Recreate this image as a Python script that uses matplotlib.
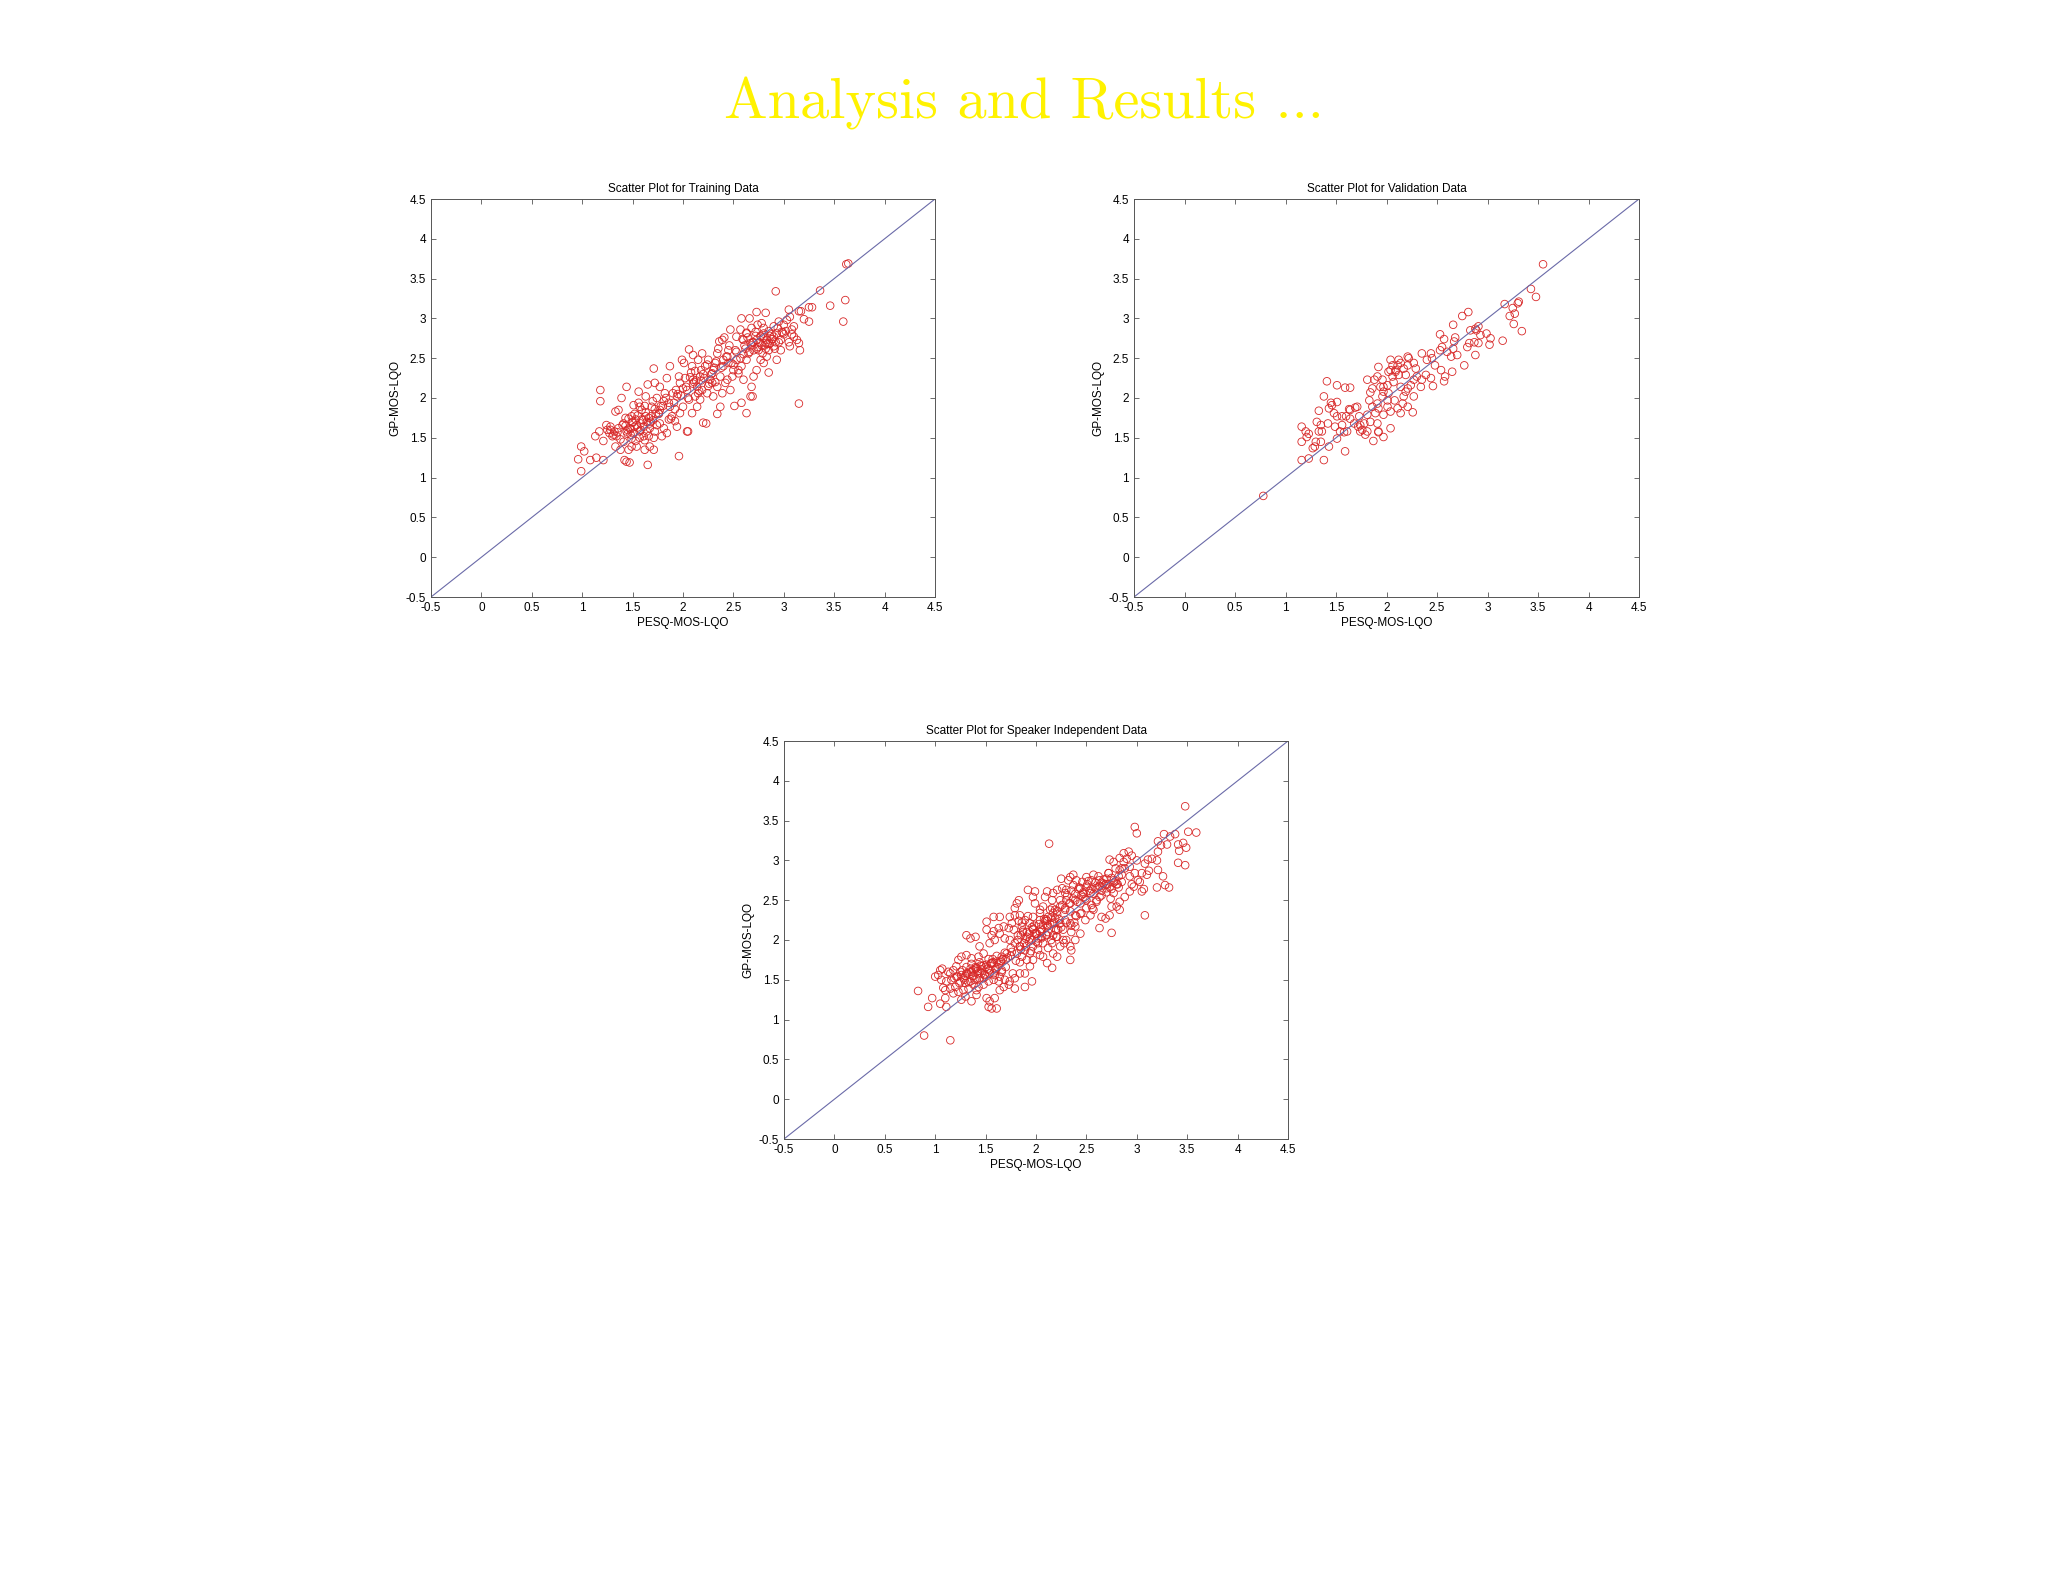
import matplotlib
matplotlib.use("Agg")
import matplotlib.pyplot as plt

# Training data (PESQ-MOS-LQO, GP-MOS-LQO)
train_x = [0.99, 1.02, 0.96, 0.99, 1.08, 1.14, 1.21, 1.13, 1.17, 1.18, 1.18, 1.24, 1.28,
           1.28, 1.31, 1.34, 1.36, 1.33, 1.39, 1.44, 1.41, 1.44, 1.48, 1.49, 1.52, 1.49, 1.46,
           1.54, 1.41, 1.38, 1.33, 1.44, 1.42, 1.47, 1.57, 1.56, 1.53, 1.51,
           1.57, 1.61, 1.64, 1.66, 1.63, 1.65, 1.69, 1.71, 1.72, 1.74, 1.76, 1.77, 1.81, 1.84,
           1.79, 1.67, 1.71, 1.62, 1.65, 1.86, 1.87, 1.82, 1.77, 1.84, 1.87, 1.81, 1.67, 1.72,
           1.77, 1.59,
           1.91, 1.94, 1.97, 1.96, 1.99, 2.01, 2.06, 2.09, 2.10, 2.14, 2.12, 2.04, 2.00, 1.97,
           1.92, 1.96, 2.04, 2.05, 2.09, 2.14, 2.17, 2.19, 2.17, 2.15, 2.19, 2.10, 2.20, 2.23,
           1.94, 1.89,
           2.24, 2.27, 2.30, 2.32, 2.34, 2.39, 2.41, 2.36, 2.44, 2.47, 2.45, 2.40, 2.37, 2.34,
           2.30, 2.29, 2.44, 2.47, 2.50, 2.52, 2.53, 2.25, 2.34, 2.51, 2.39, 2.37, 2.49, 2.42,
           2.57, 2.60, 2.63, 2.67, 2.70, 2.73, 2.77, 2.80, 2.83, 2.85, 2.77, 2.73, 2.68, 2.67,
           2.69, 2.58, 2.63, 2.58, 2.60, 2.63, 2.53, 2.55, 2.73, 2.82, 2.58, 2.66, 2.78, 2.82,
           2.75, 2.85, 2.70, 2.80, 2.83,
           2.90, 2.93, 2.97, 3.00, 3.03, 3.06, 3.10, 3.08, 3.13, 3.15, 3.06, 3.16, 2.93, 2.92,
           3.05, 3.15, 3.17, 2.97, 2.90, 2.98, 3.10, 3.20, 3.15, 2.90, 2.95,
           3.25, 3.28, 3.36, 3.46, 3.25, 3.61, 3.59, 3.62, 3.64,
           1.36, 1.40, 1.45, 1.50, 1.55, 1.60, 1.43, 1.52, 1.58, 1.63, 1.68, 1.73, 1.35, 1.47,
           1.56, 1.62, 1.70, 1.78, 1.95, 2.00, 2.05, 2.10, 2.15, 2.20, 2.25, 2.02, 2.08, 2.13,
           2.18, 2.22, 2.62, 2.66, 2.70, 2.74, 2.78, 2.82, 2.86, 2.64, 2.72, 2.80, 2.88, 2.92,
           1.25, 1.30, 1.88, 1.92, 2.28, 2.32, 2.45, 2.55, 2.60, 3.00, 3.05,
           1.45, 1.48, 1.51, 1.54, 1.58, 1.61, 1.64, 1.67, 1.70, 1.74, 1.46, 1.50, 1.55, 1.59,
           1.63, 1.68, 1.72, 1.76, 1.49, 1.53, 1.57, 1.62, 1.66, 1.71, 1.80, 1.83, 1.86, 1.90,
           1.93, 1.98, 2.03, 2.06, 2.11, 2.16, 2.21, 2.26, 2.31, 2.07, 2.12, 2.18, 2.24, 2.29,
           2.33, 2.38, 2.43, 2.48, 2.53, 2.57, 2.61, 2.65, 2.69, 2.73, 2.77, 2.81, 2.85, 2.89,
           2.94, 2.99, 2.59, 2.63, 2.68, 2.72, 2.76, 2.80, 2.84, 2.88, 2.91, 2.68, 2.74, 2.79,
           2.86, 2.95, 3.02, 3.08, 1.32, 1.38, 1.43, 1.27, 1.21, 2.35, 2.40, 2.46, 2.50]
train_y = [1.39, 1.33, 1.23, 1.08, 1.22, 1.25, 1.22, 1.52, 1.58, 2.10, 1.96, 1.66, 1.64,
           1.60, 1.54, 1.52, 1.85, 1.83, 2.00, 2.14, 1.68, 1.58, 1.54, 1.77, 1.64, 1.39, 1.35,
           1.39, 1.45, 1.35, 1.39, 1.20, 1.22, 1.19, 1.89, 2.08, 1.73, 1.91,
           1.58, 1.52, 1.58, 1.75, 2.02, 2.17, 1.89, 2.37, 2.19, 2.00, 1.81, 1.68, 1.62, 1.56,
           1.52, 1.39, 1.35, 1.35, 1.16, 1.73, 1.89, 2.06, 2.14, 2.25, 2.40, 1.96, 1.68, 1.58,
           1.85, 1.85,
           1.94, 2.02, 2.19, 2.27, 2.48, 2.44, 2.61, 2.40, 2.23, 2.14, 2.02, 2.10, 1.89, 1.81,
           1.71, 1.27, 1.58, 1.58, 1.81, 1.89, 1.98, 2.10, 2.27, 2.48, 2.56, 2.54, 1.69, 1.68,
           1.64, 1.77,
           2.06, 2.23, 2.35, 2.44, 2.56, 2.73, 2.76, 2.71, 2.52, 2.86, 2.60, 2.40, 2.27, 2.14,
           2.02, 2.19, 2.23, 2.10, 2.35, 2.60, 2.77, 2.48, 1.80, 1.90, 2.06, 1.89, 2.27, 2.19,
           2.86, 2.73, 2.81, 2.69, 2.60, 2.73, 2.77, 2.81, 2.73, 2.60, 2.48, 2.35, 2.14, 2.02,
           2.02, 1.94, 1.81, 2.40, 2.23, 2.48, 2.48, 2.31, 3.08, 3.07, 3.00, 3.00, 2.94, 2.69,
           2.60, 2.32, 2.27, 2.44, 2.52,
           2.90, 2.81, 2.73, 2.92, 2.98, 3.02, 2.90, 2.86, 2.73, 2.69, 2.65, 2.60, 2.48, 3.34,
           3.11, 3.09, 3.09, 2.60, 2.65, 2.83, 2.77, 2.99, 1.93, 2.77, 2.96,
           3.14, 3.14, 3.35, 3.16, 2.96, 3.23, 2.96, 3.68, 3.69,
           1.62, 1.66, 1.60, 1.70, 1.63, 1.72, 1.75, 1.80, 1.68, 1.77, 1.70, 1.80, 1.57, 1.62,
           1.94, 1.90, 1.96, 1.90, 2.05, 2.12, 2.00, 2.18, 2.06, 2.30, 2.15, 2.25, 2.32, 2.22,
           2.35, 2.40, 2.62, 2.58, 2.70, 2.64, 2.66, 2.62, 2.68, 2.76, 2.83, 2.88, 2.80, 2.70,
           1.60, 1.52, 1.74, 1.86, 2.30, 2.20, 2.44, 2.35, 2.55, 2.80, 2.70,
           1.55, 1.61, 1.56, 1.66, 1.60, 1.64, 1.70, 1.62, 1.72, 1.66, 1.74, 1.69, 1.78, 1.73,
           1.82, 1.77, 1.86, 1.80, 1.49, 1.46, 1.50, 1.47, 1.52, 1.50, 1.90, 2.00, 1.94, 2.06,
           2.10, 2.03, 2.14, 1.98, 2.20, 2.09, 2.25, 2.18, 2.38, 2.26, 2.34, 2.22, 2.42, 2.31,
           2.46, 2.38, 2.52, 2.44, 2.58, 2.50, 2.66, 2.56, 2.70, 2.62, 2.78, 2.66, 2.84, 2.74,
           2.88, 2.82, 2.74, 2.82, 2.66, 2.78, 2.70, 2.76, 2.68, 2.74, 2.62, 2.88, 2.92, 2.56,
           2.78, 2.70, 2.84, 2.80, 1.58, 1.48, 1.65, 1.56, 1.46, 2.62, 2.48, 2.66, 2.42]

# Validation data
val_x = [3.55, 3.43, 3.48, 3.17, 3.31, 3.30, 3.25, 3.22, 3.27, 3.26, 3.34, 3.15, 3.02, 3.03,
         2.99, 2.93, 2.88, 2.91, 2.89, 2.83, 2.81, 2.75, 2.66, 2.53, 2.57, 2.68, 2.67, 2.82,
         2.87, 2.91, 2.80, 2.88, 2.77, 2.66, 2.60, 2.64, 2.70, 2.55, 2.53, 2.65, 2.58, 2.57,
         2.46, 2.54, 2.48, 2.44, 2.45, 2.40, 2.35, 2.39, 2.35, 2.44, 2.27, 2.29, 2.21, 2.22,
         2.17, 2.14, 2.11, 2.09, 2.12, 2.19, 2.04, 1.92, 1.81, 1.88, 2.27, 2.24, 2.30, 2.34,
         2.27, 2.21, 2.17, 2.16, 2.21, 2.26, 2.14, 2.11, 2.08, 2.01, 2.02, 1.97, 1.94, 1.96,
         1.91, 2.01, 2.04, 1.97, 1.86, 1.84, 1.83, 1.86, 1.81, 1.89, 1.92, 1.71, 1.69, 1.64,
         1.63, 1.73, 1.68, 1.74, 1.76, 1.81, 1.79, 1.87, 1.92, 1.97, 2.04, 1.59, 1.64, 1.51,
         1.41, 1.38, 1.45, 1.51, 1.46, 1.33, 1.31, 1.35, 1.36, 1.33, 1.35, 1.30, 1.27, 1.29,
         1.16, 1.20, 1.23, 1.16, 1.21, 1.16, 1.23, 1.38, 1.43, 1.51, 1.54, 1.58, 1.61, 1.56,
         1.49, 1.51, 1.56, 1.60, 1.64, 1.59, 1.43, 1.48, 1.42, 1.72, 1.74, 1.78, 1.84, 1.91,
         1.92, 1.97, 2.01, 2.06, 2.07, 2.02, 1.91, 1.96, 0.78, 2.06, 2.09, 2.12, 2.21, 2.04,
         2.14, 2.19]
val_y = [3.68, 3.37, 3.27, 3.18, 3.21, 3.19, 3.13, 3.03, 3.06, 2.93, 2.84, 2.72, 2.67, 2.75,
         2.81, 2.79, 2.87, 2.90, 2.85, 2.85, 3.08, 3.03, 2.92, 2.80, 2.74, 2.76, 2.71, 2.69,
         2.70, 2.69, 2.64, 2.54, 2.41, 2.62, 2.58, 2.52, 2.54, 2.64, 2.60, 2.33, 2.27, 2.21,
         2.15, 2.35, 2.41, 2.56, 2.50, 2.48, 2.56, 2.29, 2.23, 2.25, 2.44, 2.37, 2.52, 2.50,
         2.37, 2.44, 2.41, 2.35, 2.29, 2.29, 2.48, 2.39, 2.23, 2.23, 2.23, 2.16, 2.27, 2.14,
         2.02, 2.12, 2.02, 1.93, 1.89, 1.82, 1.81, 1.87, 1.97, 1.97, 2.06, 2.08, 2.14, 2.02,
         1.93, 1.89, 1.83, 1.79, 2.12, 2.07, 1.97, 1.89, 1.79, 1.81, 1.87, 1.89, 1.88, 1.85,
         1.86, 1.77, 1.68, 1.66, 1.60, 1.58, 1.54, 1.46, 1.57, 1.51, 1.62, 2.13, 2.13, 2.16,
         2.21, 2.02, 1.94, 1.95, 1.91, 1.84, 1.70, 1.66, 1.58, 1.58, 1.45, 1.45, 1.37, 1.39,
         1.64, 1.58, 1.55, 1.45, 1.51, 1.22, 1.24, 1.22, 1.39, 1.49, 1.58, 1.57, 1.58, 1.66,
         1.64, 1.77, 1.77, 1.77, 1.74, 1.33, 1.87, 1.81, 1.68, 1.64, 1.58, 1.68, 1.70, 1.68,
         1.58, 2.14, 2.16, 2.27, 2.20, 2.33, 2.27, 2.23, 0.77, 2.41, 2.33, 2.48, 2.41, 2.35,
         2.14, 2.08]

# Speaker independent data
spk_x = [3.48, 2.98, 3.00, 2.13, 3.27, 3.33, 3.38, 3.51, 3.59, 3.21, 3.24, 3.41, 3.46, 3.42,
         3.49, 3.21, 3.41, 3.48, 3.20, 3.21, 3.26, 3.20, 3.28, 3.32, 3.08, 3.07, 3.05, 3.03,
         3.10, 3.12, 3.08, 3.11, 3.00, 2.95, 2.92, 2.87, 2.87, 2.83, 2.77, 2.73, 2.79, 2.83,
         2.88, 2.93, 2.98, 3.01, 2.82, 2.85, 2.82, 2.77, 2.83, 2.80, 2.75, 2.73, 2.65, 2.63,
         2.75, 2.70, 2.67, 2.63, 2.57, 2.55, 2.50, 2.46, 2.40, 2.37, 2.34, 2.32, 2.25, 2.70,
         2.63, 2.60, 2.54, 2.50, 2.47, 2.44, 2.39, 2.34, 2.30, 2.29, 2.26, 2.21, 2.17, 2.11,
         2.09, 2.16, 2.57, 2.54, 2.49, 2.44, 2.39, 2.34, 2.29, 2.24, 2.21, 2.14, 2.07, 2.04,
         1.99, 1.97, 1.92, 1.99, 2.44, 2.39, 2.34, 2.29, 2.24, 2.19, 2.16, 2.11, 2.04, 1.97,
         1.94, 1.89, 1.84, 1.81, 1.79, 1.83, 2.34, 2.35, 2.34, 2.27, 2.21, 2.24, 2.17, 2.12,
         2.07, 2.06, 2.01, 1.97, 1.96, 1.91, 1.87, 1.86, 1.82, 1.78, 1.76, 1.73, 2.16, 2.04,
         1.97, 1.94, 1.89, 1.84, 1.79, 1.74, 1.69, 1.64, 1.68, 1.63, 1.58, 1.56, 1.59, 1.54,
         1.51, 1.51, 1.58, 1.64, 1.74, 1.79, 1.31, 1.35, 1.40, 1.44, 1.48, 1.43, 1.36, 1.31,
         1.26, 1.23, 1.21, 1.18, 1.15, 1.05, 1.07, 1.03, 1.06, 1.11, 1.16, 1.21, 1.26, 1.31,
         1.36, 1.41, 1.46, 1.51, 1.56, 1.61, 1.66, 1.71, 1.76, 1.81, 1.86, 1.91, 1.94, 1.89,
         1.84, 1.79, 1.74, 1.69, 1.64, 1.59, 1.54, 1.49, 1.44, 1.39, 1.35, 1.30, 1.25, 1.20,
         1.15, 1.10, 1.18, 1.23, 1.28, 1.33, 1.38, 1.43, 1.48, 1.53, 1.58, 1.63, 1.68, 1.73,
         0.83, 0.97, 0.93, 1.05, 1.10, 1.11, 1.26, 1.30, 1.51, 1.54, 1.59, 1.61, 1.56, 1.53,
         1.41, 1.36, 0.89, 1.15, 1.89, 1.79, 1.96, 1.41, 1.64, 2.83, 2.69, 2.30, 2.35, 2.39,
         2.21, 2.11, 2.07, 2.16, 2.22, 2.27, 2.02, 1.97, 2.07, 2.12, 2.17, 2.04, 2.12, 2.19,
         2.24, 2.30, 2.37, 2.44, 2.50, 2.59, 2.63, 2.72, 2.77, 2.85, 2.93, 2.97, 2.93, 2.88,
         1.30, 1.34, 1.38, 1.42, 1.46, 1.50, 1.55, 1.60, 1.65, 1.70, 1.75, 1.80, 1.85, 1.90,
         1.95, 2.00, 2.05, 2.10, 2.15, 2.20, 2.25, 2.30, 2.35, 2.40, 2.45, 2.50, 2.55, 2.60,
         2.65, 2.70, 2.75, 2.80, 1.40, 1.48, 1.57, 1.66, 1.75, 1.84, 1.93, 2.02, 2.11, 2.20,
         2.29, 2.38, 2.47, 2.56, 2.65, 2.74,
         1.22, 1.25, 1.28, 1.32, 1.35, 1.38, 1.42, 1.45, 1.49, 1.52, 1.56, 1.60, 1.63, 1.67,
         1.70, 1.24, 1.29, 1.33, 1.37, 1.41, 1.46, 1.50, 1.54, 1.58, 1.62, 1.66, 1.27, 1.31,
         1.36, 1.40, 1.44, 1.48, 1.53, 1.57, 1.61, 1.65, 1.69, 1.72,
         1.82, 1.85, 1.88, 1.91, 1.94, 1.97, 2.00, 2.03, 2.06, 2.09, 2.12, 2.15, 2.18, 2.21,
         1.84, 1.87, 1.90, 1.93, 1.96, 1.99, 2.02, 2.05, 2.08, 2.11, 2.14, 2.17, 2.20, 2.23,
         1.86, 1.92, 1.98, 2.04, 2.10, 2.16,
         2.31, 2.35, 2.39, 2.43, 2.47, 2.51, 2.55, 2.59, 2.63, 2.67, 2.71, 2.75, 2.79, 2.33,
         2.37, 2.41, 2.45, 2.49, 2.53, 2.57, 2.61, 2.65, 2.69, 2.73, 2.77, 2.81, 2.42, 2.52,
         2.62, 2.72,
         1.00, 1.08, 1.13, 1.19, 1.77, 1.83, 2.26, 2.28, 2.85, 2.90, 2.95, 3.05, 3.15, 3.30]
spk_y = [3.68, 3.42, 3.34, 3.21, 3.33, 3.30, 3.33, 3.36, 3.35, 3.24, 3.19, 3.20, 3.22, 3.12,
         3.16, 3.11, 2.97, 2.94, 3.00, 2.88, 2.80, 2.66, 2.69, 2.66, 2.31, 2.64, 2.61, 2.73,
         2.82, 2.87, 2.96, 3.01, 3.00, 3.06, 3.11, 3.09, 2.98, 3.03, 2.98, 3.01, 2.90, 2.88,
         2.90, 2.92, 2.84, 2.75, 2.80, 2.73, 2.66, 2.59, 2.48, 2.42, 2.42, 2.31, 2.29, 2.15,
         2.09, 2.77, 2.71, 2.67, 2.82, 2.75, 2.79, 2.73, 2.75, 2.82, 2.79, 2.75, 2.77, 2.65,
         2.54, 2.50, 2.59, 2.50, 2.54, 2.46, 2.50, 2.46, 2.50, 2.59, 2.65, 2.63, 2.59, 2.61,
         2.54, 2.50, 2.38, 2.31, 2.25, 2.33, 2.31, 2.36, 2.38, 2.42, 2.36, 2.38, 2.42, 2.38,
         2.46, 2.54, 2.63, 2.61, 2.08, 2.17, 2.21, 2.25, 2.21, 2.27, 2.21, 2.17, 2.25, 2.29,
         2.21, 2.25, 2.31, 2.46, 2.40, 2.50, 1.92, 1.87, 1.75, 2.00, 2.04, 1.92, 1.83, 1.90,
         1.96, 2.04, 2.08, 2.13, 2.00, 2.04, 2.10, 2.17, 2.06, 2.13, 2.21, 2.15, 1.65, 1.81,
         1.75, 1.83, 1.87, 1.92, 1.96, 2.00, 2.02, 2.08, 2.17, 2.15, 2.11, 2.06, 2.00, 1.96,
         2.23, 2.13, 2.29, 2.29, 2.29, 2.31, 2.06, 2.02, 2.04, 1.92, 1.83, 1.79, 1.77, 1.81,
         1.79, 1.75, 1.67, 1.62, 1.58, 1.62, 1.64, 1.56, 1.50, 1.48, 1.50, 1.54, 1.56, 1.58,
         1.60, 1.65, 1.67, 1.69, 1.71, 1.73, 1.79, 1.83, 1.85, 1.83, 1.79, 1.75, 1.67, 1.58,
         1.58, 1.52, 1.48, 1.50, 1.54, 1.56, 1.58, 1.56, 1.52, 1.50, 1.48, 1.46, 1.48, 1.41,
         1.39, 1.37, 1.33, 1.35, 1.37, 1.39, 1.44, 1.41, 1.44, 1.48, 1.50, 1.48, 1.41, 1.44,
         1.36, 1.27, 1.16, 1.20, 1.27, 1.16, 1.25, 1.29, 1.27, 1.23, 1.27, 1.14, 1.14, 1.16,
         1.31, 1.23, 0.80, 0.74, 1.41, 1.39, 1.48, 1.37, 1.37, 2.38, 2.27, 2.00, 2.10, 2.00,
         1.79, 1.71, 1.79, 1.96, 2.13, 2.13, 1.96, 1.92, 2.19, 2.10, 2.06, 2.10, 2.29, 2.38,
         2.50, 2.63, 2.69, 2.65, 2.67, 2.65, 2.75, 2.84, 2.75, 2.82, 2.80, 2.67, 2.61, 2.54,
         1.55, 1.60, 1.62, 1.58, 1.63, 1.66, 1.70, 1.64, 1.72, 1.76, 1.80, 1.74, 1.88, 1.92,
         1.86, 1.98, 2.02, 2.06, 2.00, 2.12, 2.16, 2.22, 2.18, 2.30, 2.34, 2.40, 2.44, 2.48,
         2.56, 2.60, 2.64, 2.70, 1.66, 1.52, 1.76, 1.60, 1.90, 1.72, 2.08, 1.88, 2.24, 2.04,
         2.40, 2.22, 2.58, 2.40, 2.72, 2.52,
         1.54, 1.60, 1.52, 1.58, 1.64, 1.55, 1.61, 1.68, 1.57, 1.64, 1.71, 1.62, 1.69, 1.76,
         1.66, 1.46, 1.50, 1.47, 1.55, 1.51, 1.58, 1.54, 1.62, 1.58, 1.66, 1.62, 1.62, 1.66,
         1.70, 1.64, 1.72, 1.68, 1.76, 1.72, 1.80, 1.74, 1.84, 1.78,
         2.00, 2.06, 1.96, 2.10, 2.02, 2.14, 2.08, 2.20, 2.12, 2.24, 2.18, 2.28, 2.22, 2.32,
         1.92, 2.12, 2.02, 1.98, 2.16, 2.08, 2.02, 2.14, 2.26, 2.06, 2.20, 2.34, 2.14, 2.26,
         2.22, 2.30, 2.18, 2.34, 2.26, 2.40,
         2.56, 2.62, 2.58, 2.66, 2.60, 2.70, 2.64, 2.72, 2.68, 2.76, 2.70, 2.78, 2.74, 2.46,
         2.52, 2.48, 2.56, 2.52, 2.62, 2.58, 2.66, 2.62, 2.70, 2.66, 2.72, 2.70, 2.64, 2.74,
         2.80, 2.84,
         1.54, 1.40, 1.60, 1.52, 1.58, 2.24, 2.44, 1.96, 2.90, 3.02, 2.70, 2.84, 3.02, 3.20]

ticks = [-0.5, 0, 0.5, 1, 1.5, 2, 2.5, 3, 3.5, 4, 4.5]
tick_labels = ['-0.5', '0', '0.5', '1', '1.5', '2', '2.5', '3', '3.5', '4', '4.5']

panels = [
    ('Scatter Plot for Training Data', train_x, train_y, [431 / 2048, 1 - 597 / 1582, 504 / 2048, 398 / 1582]),
    ('Scatter Plot for Validation Data', val_x, val_y, [1134 / 2048, 1 - 597 / 1582, 505 / 2048, 398 / 1582]),
    ('Scatter Plot for Speaker Independent Data', spk_x, spk_y, [784 / 2048, 1 - 1139 / 1582, 504 / 2048, 398 / 1582]),
]

fig = plt.figure(figsize=(20.48, 15.82), dpi=100)
fig.patch.set_facecolor('white')

fig.text(0.5, 1 - 103 / 1582, 'Analysis and Results ...', family='cmr10', fontsize=42,
         color='#fff200', ha='center', va='center')

for title, xs, ys, rect in panels:
    ax = fig.add_axes(rect)
    ax.plot([-0.5, 4.5], [-0.5, 4.5], color='#6a6aa8', linewidth=0.8)
    ax.scatter(xs, ys, s=30, facecolors='none', edgecolors='#d82828', linewidths=0.6)
    ax.set_xlim(-0.5, 4.5)
    ax.set_ylim(-0.5, 4.5)
    ax.set_xticks(ticks)
    ax.set_yticks(ticks)
    ax.set_xticklabels(tick_labels, family='Liberation Sans', fontsize=8.5)
    ax.set_yticklabels(tick_labels, family='Liberation Sans', fontsize=8.5)
    ax.tick_params(direction='in', length=3.5, width=0.6, color='#555555',
                   top=True, right=True, pad=3.5)
    for sp in ax.spines.values():
        sp.set_color('#555555')
        sp.set_linewidth(0.7)
    ax.set_title(title, family='Liberation Sans', fontsize=8.5, pad=5)
    ax.set_xlabel('PESQ-MOS-LQO', family='Liberation Sans', fontsize=8.5, labelpad=2)
    ax.set_ylabel('GP-MOS-LQO', family='Liberation Sans', fontsize=8.5, labelpad=3)

fig.savefig('out.png', dpi=100, facecolor='white')
